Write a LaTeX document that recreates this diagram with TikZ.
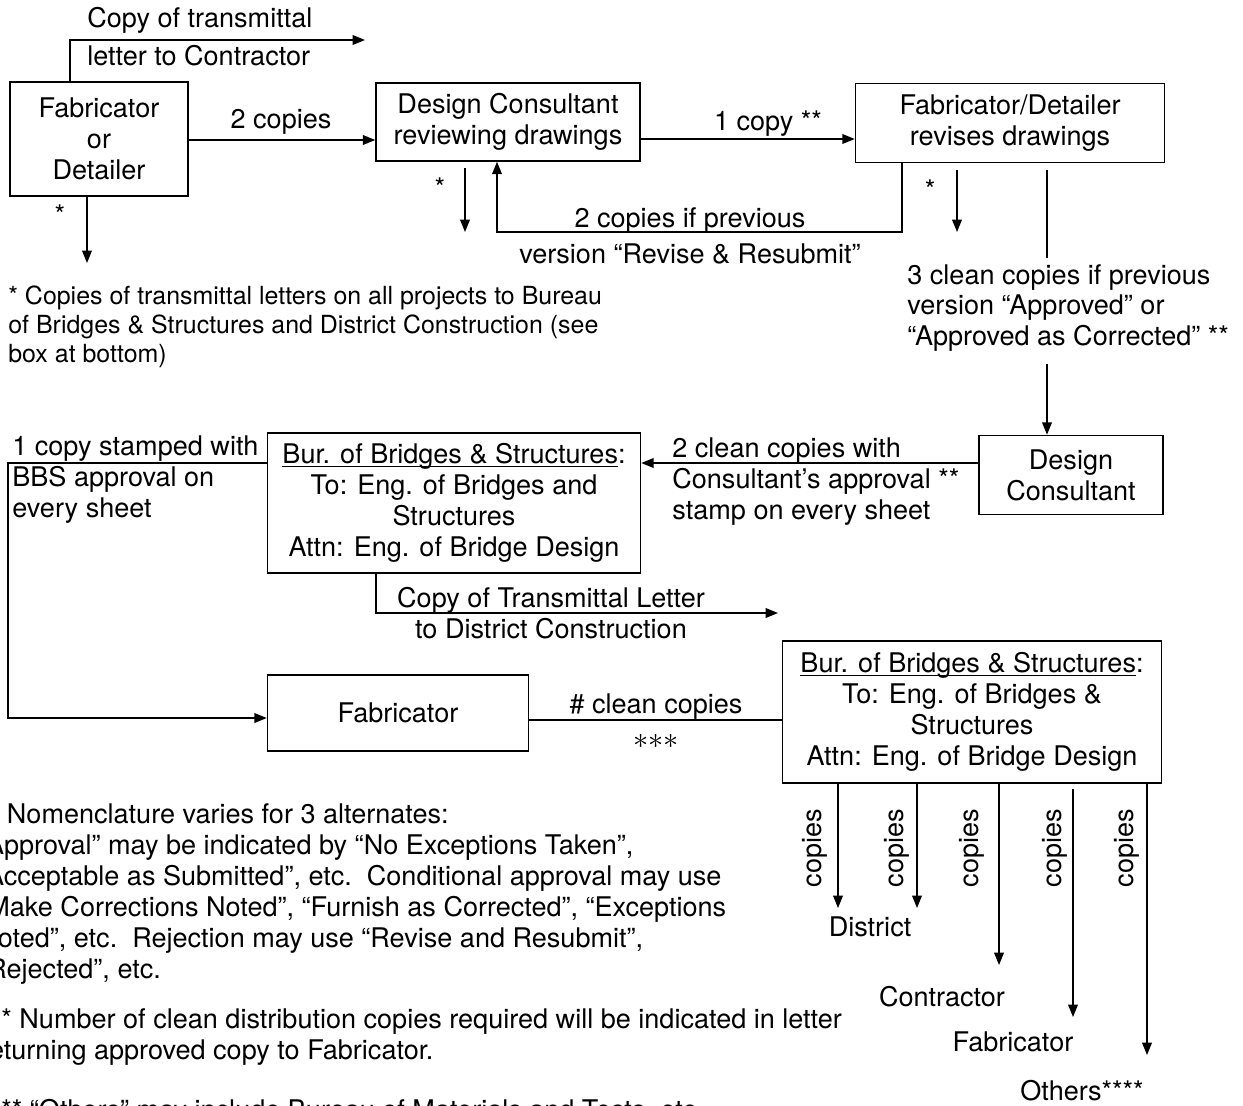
\documentclass[tikz,border=0pt]{standalone}
\usepackage{fontspec}
\setmainfont{TeX Gyre Heros}
\usetikzlibrary{arrows.meta,positioning,calc}

\newcommand{\ulhead}[1]{\underline{\smash{#1}}\vphantom{#1}}

\tikzset{
  box/.style={draw, line width=0.9pt, align=center, inner sep=0pt},
  arr/.style={line width=0.8pt, -{Triangle[length=7pt,width=5.5pt]}},
  ln/.style={line width=0.8pt},
  lbl/.style={inner sep=0pt, align=left},
}

\begin{document}
\begin{tikzpicture}[x=0.02cm, y=-0.02cm, font=\fontsize{15.4}{17.6}\selectfont]
\useasboundingbox (0,0) rectangle (1243,1105);

% boxes
\node[box, minimum width=3.56cm, minimum height=2.28cm] (fab) at (99,139) {Fabricator\\or\\Detailer};
\node[box, minimum width=5.28cm, minimum height=1.56cm] (dcr) at (508,122) {Design Consultant\\reviewing drawings};
\node[box, minimum width=6.18cm, minimum height=1.58cm] (fdr) at (1010,123) {Fabricator/Detailer\\revises drawings};
\node[box, minimum width=3.68cm, minimum height=1.58cm] (dc) at (1071,475) {Design\\Consultant};
\node[box, minimum width=7.46cm, minimum height=2.8cm] (bbsa) at (454,503) {\ulhead{Bur. of Bridges \& Structures}:\\To: Eng. of Bridges and\\Structures\\Attn: Eng. of Bridge Design};
\node[box, minimum width=5.22cm, minimum height=1.52cm] (fabb) at (398,713) {Fabricator};
\node[box, minimum width=7.58cm, minimum height=2.84cm] (bbsb) at (972,712) {\ulhead{Bur. of Bridges \& Structures}:\\To: Eng. of Bridges \&\\Structures\\Attn: Eng. of Bridge Design};

% top row
\coordinate (ctr) at (365,40);
\draw[arr] (fab.north -| 70,0) |- (ctr);
\node[lbl, anchor=west] (ctra) at (87,20) {Copy of transmittal};
\node[lbl, anchor=west] (ctrb) at (87,56) {letter to Contractor};

\draw[arr] (fab.east |- 0,140) -- (dcr.west |- 0,140);
\node[lbl] (two) at (281,122) {2 copies};
\draw[arr] (dcr.east |- 0,139) -- (fdr.west |- 0,139);
\node[lbl] (one) at (768,124) {1 copy **};

% transmittal copies
\coordinate (sa) at (87,263);
\draw[arr] (fab.south -| sa) -- (sa);
\node[lbl] at (60,215) {*};
\coordinate (sb) at (465,232);
\draw[arr] ($(dcr.south -| sb)+(0,6)$) -- (sb);
\node[lbl] at (440,188) {*};
\coordinate (sc) at (957,232);
\draw[arr] ($(fdr.south -| sc)+(0,7)$) -- (sc);
\node[lbl] at (930,190) {*};

% resubmit loop
\coordinate (retr) at (902,232);
\coordinate (retl) at (497,232);
\draw[arr] (fdr.south -| retr) -- (retr) -- (retl) -- (dcr.south -| retl);
\node[lbl] (rsa) at (690,221) {2 copies if previous};
\node[lbl] (rsb) at (690,254) {version “Revise \& Resubmit”};

% approved path
\node[lbl, anchor=west] (cln) at (907,308) {3 clean copies if previous\\version “Approved” or\\“Approved as Corrected” **};
\draw[ln] ($(fdr.south -| 1047,0)+(0,7)$) -- ($(cln.north -| 1047,0)+(0,-6)$);
\draw[arr] ($(cln.south -| 1047,0)+(0,12)$) -- (dc.north -| 1047,0);

\node[lbl, anchor=west, font=\fontsize{14.2}{16.5}\selectfont] (note) at (8,327) {* Copies of transmittal letters on all projects to Bureau\\of Bridges \& Structures and District Construction (see\\box at bottom)};

% middle row
\draw[arr] (dc.west |- 0,463) -- (bbsa.east |- 0,463);
\node[lbl, anchor=west] (cap) at (672,482) {2 clean copies with\\Consultant’s approval **\\stamp on every sheet};

\coordinate (lft) at (8,463);
\draw[arr] (bbsa.west |- lft) -- (lft) -- (8,718) -- (fabb.west |- 0,718);
\node[lbl, anchor=west] (stp) at (12,480) {1 copy stamped with\\BBS approval on\\every sheet};

\coordinate (dist) at (778,613);
\draw[arr] (bbsa.south -| 376,0) |- (dist);
\node[lbl, align=center] (trl) at (551,613) {Copy of Transmittal Letter\\to District Construction};

% bottom row
\draw[ln] (fabb.east |- 0,720) -- (bbsb.west |- 0,720);
\node[lbl] (cc) at (656,707) {\# clean copies};
\node[lbl, font=\fontsize{18}{18}\selectfont] (ccs) at (656,741) {${\ast}{\ast}{\ast}$};

\coordinate (da) at (838,908);
\coordinate (db) at (917,908);
\coordinate (dcon) at (999,965);
\coordinate (dfab) at (1073,1017);
\coordinate (doth) at (1147,1055);
\draw[arr] (bbsb.south -| da) -- (da);
\draw[arr] (bbsb.south -| db) -- (db);
\draw[arr] (bbsb.south -| dcon) -- (dcon);
\draw[arr] ($(bbsb.south -| dfab)+(0,5)$) -- (dfab);
\draw[arr] (bbsb.south -| doth) -- (doth);
\foreach \x in {815,897,972,1055,1127}
  \node[lbl, rotate=90] at (\x,848) {copies};
\node[lbl] (ndist) at (870,927) {District};
\node[lbl] (ncon) at (942,997) {Contractor};
\node[lbl] (nfab) at (1013,1042) {Fabricator};
\node[lbl] (noth) at (1082,1091) {Others****};

% notes
\node[lbl, anchor=west] (nom) at (-22,894) {** Nomenclature varies for 3 alternates:\\“Approval” may be indicated by “No Exceptions Taken”,\\“Acceptable as Submitted”, etc.\ \ Conditional approval may use\\“Make Corrections Noted”, “Furnish as Corrected”, “Exceptions\\Noted”, etc.\ \ Rejection may use “Revise and Resubmit”,\\“Rejected”, etc.};
\node[lbl, anchor=west] (num) at (-20,1037) {*** Number of clean distribution copies required will be indicated in letter\\returning approved copy to Fabricator.};
\node[lbl, anchor=west] (oth) at (-20,1112) {**** “Others” may include Bureau of Materials and Tests, etc.};
\end{tikzpicture}
\end{document}
